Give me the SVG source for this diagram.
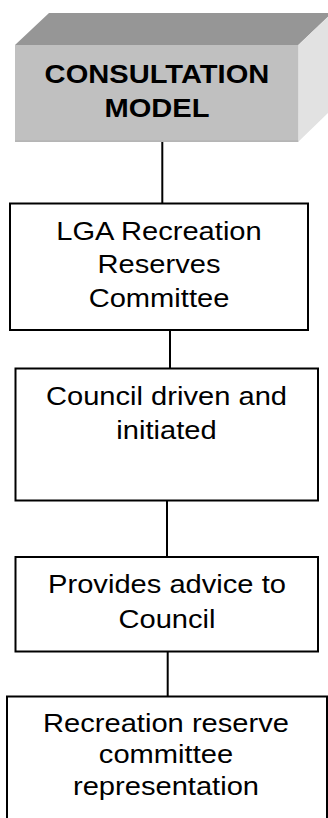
<svg xmlns="http://www.w3.org/2000/svg" width="328" height="818" viewBox="0 0 328 818">
  <style>
    .box { fill: #ffffff; stroke: #000000; stroke-width: 2; }
    .link { stroke: #000000; stroke-width: 2; fill: none; }
    .label { font-family: "Liberation Sans", Arial, sans-serif; font-size: 26px; fill: #000000; text-anchor: middle; }
    .title { font-weight: bold; }
  </style>
  <rect width="328" height="818" fill="#ffffff"/>

  <!-- connectors between the stacked boxes -->
  <g id="connectors">
    <line class="link" x1="162.3" y1="142" x2="162.3" y2="203"/>
    <line class="link" x1="170" y1="330" x2="170" y2="368.5"/>
    <line class="link" x1="167" y1="500.5" x2="167" y2="557"/>
    <line class="link" x1="167.7" y1="651.5" x2="167.7" y2="696.5"/>
  </g>

  <!-- bevelled title block -->
  <g id="consultation-model">
    <polygon points="15,45 49,13 332,13 298.3,45" fill="#969696"/>
    <polygon points="298.3,45 332,13 332,109 298.3,141.7" fill="#e2e2e2"/>
    <rect x="15" y="45" width="283.3" height="96.7" fill="#c0c0c0"/>
    <line x1="15" y1="141.2" x2="298.3" y2="141.2" stroke="#a9a9a9" stroke-width="1"/>
    <g transform="translate(157 0) scale(1.12 1)">
      <text class="label title" x="0" y="83.3">CONSULTATION</text>
      <text class="label title" x="0" y="116.7">MODEL</text>
    </g>
  </g>

  <g id="lga-committee">
    <rect class="box" x="10" y="203.5" width="298" height="126.5"/>
    <g transform="translate(159 0) scale(1.12 1)">
      <text class="label" x="0" y="240">LGA Recreation</text>
      <text class="label" x="0" y="273.3">Reserves</text>
      <text class="label" x="0" y="307">Committee</text>
    </g>
  </g>

  <g id="council-driven">
    <rect class="box" x="15.5" y="368.5" width="302.5" height="132"/>
    <g transform="translate(166.5 0) scale(1.12 1)">
      <text class="label" x="0" y="405">Council driven and</text>
      <text class="label" x="0" y="439.3">initiated</text>
    </g>
  </g>

  <g id="provides-advice">
    <rect class="box" x="15.5" y="557" width="302.5" height="94.5"/>
    <g transform="translate(167 0) scale(1.12 1)">
      <text class="label" x="0" y="593.3">Provides advice to</text>
      <text class="label" x="0" y="628.3">Council</text>
    </g>
  </g>

  <g id="committee-representation">
    <rect class="box" x="7" y="696.5" width="320" height="140"/>
    <g transform="translate(166 0) scale(1.12 1)">
      <text class="label" x="0" y="731.7">Recreation reserve</text>
      <text class="label" x="0" y="763.3">committee</text>
      <text class="label" x="0" y="795.5">representation</text>
    </g>
  </g>
</svg>
